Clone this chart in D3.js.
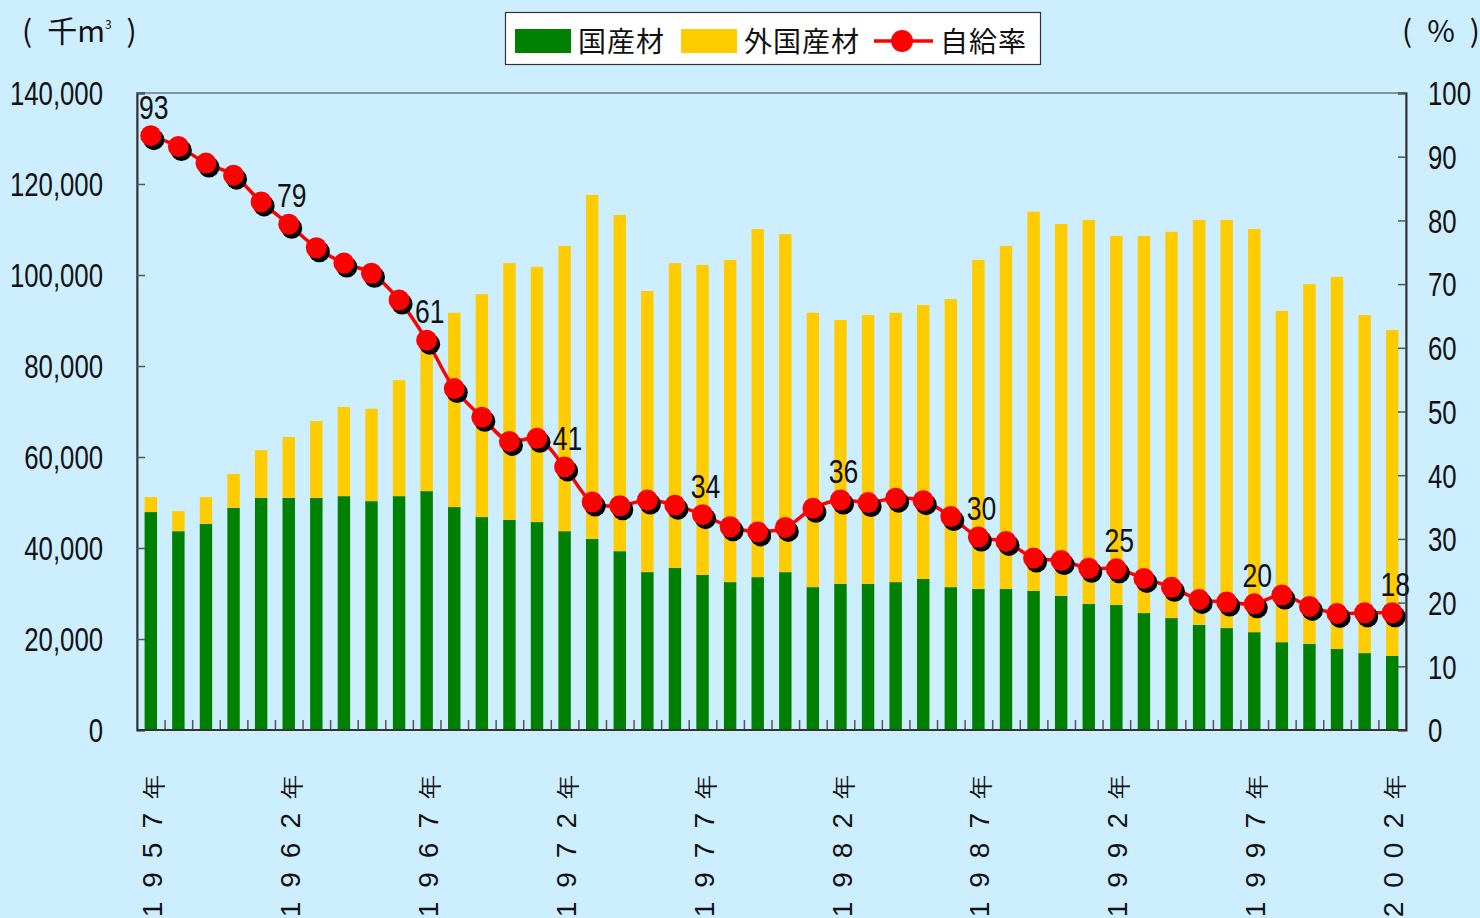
<!DOCTYPE html>
<html>
<head>
<meta charset="utf-8">
<script src="https://cdn.jsdelivr.net/npm/d3@7"></script>
<style>
  html, body { margin: 0; padding: 0; background: #cceeff; }
  svg { display: block; }
  .num { font-family: "Liberation Sans", Arial, sans-serif; }
  .jp { font-family: "Noto Sans CJK JP", sans-serif; }
</style>
</head>
<body>
<div id="chart"></div>
<script>
// years shown on the x axis, 1957 .. 2002
const years = [
  1957, 1958, 1959, 1960, 1961, 1962, 1963, 1964, 1965, 1966,
  1967, 1968, 1969, 1970, 1971, 1972, 1973, 1974, 1975, 1976,
  1977, 1978, 1979, 1980, 1981, 1982, 1983, 1984, 1985, 1986,
  1987, 1988, 1989, 1990, 1991, 1992, 1993, 1994, 1995, 1996,
  1997, 1998, 1999, 2000, 2001, 2002
];

// 国産材 (thousand m3)
const domestic = [
  47900, 43700, 45300, 48800, 51000, 51000, 51000, 51400, 50300, 51400,
  52500, 49000, 46800, 46200, 45700, 43700, 42000, 39300, 34700, 35600,
  34100, 32500, 33600, 34700, 31400, 32100, 32100, 32500, 33200, 31400,
  31000, 31000, 30600, 29500, 27700, 27500, 25700, 24600, 23100, 22400,
  21500, 19300, 18900, 17800, 16900, 16300
];

// 外国産材 (thousand m3)
const foreign = [
   3300,  4400,  5900,  7500, 10500, 13400, 16900, 19600, 20300, 25500,
  33500, 42700, 49000, 56400, 56100, 62700, 75600, 73900, 61800, 67000,
  68100, 70800, 76500, 74300, 60300, 58000, 59100, 59200, 60200, 63300,
  72300, 75400, 83300, 81700, 84400, 81100, 82900, 84900, 89000, 89700,
  88600, 72800, 79100, 81800, 74300, 71600
];

// 自給率 (%)
const rate = [
  93.3, 91.6, 89.0, 87.1, 82.9, 79.4, 75.7, 73.3, 71.7, 67.5,
  61.2, 53.6, 49.1, 45.3, 45.8, 41.3, 35.8, 35.2, 36.1, 35.3,
  33.8, 31.9, 31.1, 31.8, 34.8, 36.1, 35.7, 36.4, 36.0, 33.5,
  30.3, 29.6, 27.0, 26.6, 25.4, 25.3, 23.8, 22.4, 20.5, 20.1,
  19.8, 21.2, 19.4, 18.3, 18.4, 18.4
];

const leftTicks = [0, 20000, 40000, 60000, 80000, 100000, 120000, 140000];
const rightTicks = [0, 10, 20, 30, 40, 50, 60, 70, 80, 90, 100];
const labelledYears = [1957, 1962, 1967, 1972, 1977, 1982, 1987, 1992, 1997, 2002];

(function() {
  let width = 1480, height = 918;
  let plot = { left: 137, right: 1406, top: 93, bottom: 730 };

  // squeeze a text horizontally so the digits look tall and narrow
  function narrow(sel, k) {
    sel.each(function() {
      let len = this.getComputedTextLength();
      if (len > 0) {
        d3.select(this)
          .attr("textLength", len * k)
          .attr("lengthAdjust", "spacingAndGlyphs");
      }
    });
  }

  let svg = d3.select("#chart")
    .append("svg")
    .attr("width", width)
    .attr("height", height);

  svg.append("rect")
    .attr("width", width)
    .attr("height", height)
    .attr("fill", "#cceeff");

  let x = d3.scaleBand()
    .domain(years)
    .range([plot.left, plot.right])
    .paddingInner(0.55)
    .paddingOuter(0.275);

  let slot = d3.scaleLinear()
    .domain([0, years.length])
    .range([plot.left, plot.right]);

  let y = d3.scaleLinear()
    .domain([0, 140000])
    .range([plot.bottom, plot.top]);

  let y2 = d3.scaleLinear()
    .domain([0, 100])
    .range([plot.bottom, plot.top]);

  // plot frame
  svg.append("rect")
    .attr("x", plot.left)
    .attr("y", plot.top)
    .attr("width", plot.right - plot.left)
    .attr("height", plot.bottom - plot.top)
    .attr("fill", "none")
    .attr("stroke", "#6f7780")
    .attr("stroke-width", 1.5);

  // stacked bars
  let rows = years.map((yr, i) => ({ year: yr, domestic: domestic[i], foreign: foreign[i] }));
  let stack = d3.stack().keys(["domestic", "foreign"])(rows);
  let colors = { domestic: "#008000", foreign: "#ffcc00" };

  svg.append("g")
    .selectAll("g")
    .data(stack)
    .join("g")
    .attr("fill", d => colors[d.key])
    .selectAll("rect")
    .data(d => d)
    .join("rect")
    .attr("x", d => x(d.data.year))
    .attr("width", x.bandwidth())
    .attr("y", d => y(d[1]))
    .attr("height", d => y(d[0]) - y(d[1]));

  // axes
  let leftAxis = svg.append("g")
    .attr("transform", "translate(" + plot.left + ",0)")
    .call(d3.axisLeft(y)
      .tickValues(leftTicks)
      .tickSize(-8)
      .tickPadding(34)
      .tickFormat(d3.format(",")));

  let rightAxis = svg.append("g")
    .attr("transform", "translate(" + plot.right + ",0)")
    .call(d3.axisRight(y2)
      .tickValues(rightTicks)
      .tickSize(-8)
      .tickPadding(22));

  let bottomAxis = svg.append("g")
    .attr("transform", "translate(0," + plot.bottom + ")")
    .call(d3.axisTop(slot)
      .tickValues(d3.range(1, years.length))
      .tickSize(10)
      .tickFormat(""));

  [leftAxis, rightAxis, bottomAxis].forEach(function(g) {
    g.select(".domain").attr("stroke", "#333").attr("stroke-width", 2);
    g.selectAll(".tick line").attr("stroke", "#555").attr("stroke-width", 1.5);
    g.selectAll(".tick text")
      .attr("class", "num")
      .attr("fill", "#111")
      .style("font-size", "33px")
      .attr("dy", "0.36em")
      .call(narrow, 0.78);
  });
  bottomAxis.select(".domain").remove();
  svg.append("line")
    .attr("x1", plot.left).attr("x2", plot.right)
    .attr("y1", plot.bottom).attr("y2", plot.bottom)
    .attr("stroke", "#333").attr("stroke-width", 2);

  // year labels, rotated, read bottom to top
  let yearSpacing = 14;
  let yearText = svg.append("g")
    .selectAll("text")
    .data(labelledYears)
    .join("text")
    .attr("class", "num")
    .attr("transform", d => "translate(" + (x(d) + x.bandwidth() / 2 + 1) + ",775) rotate(-90)")
    .attr("text-anchor", "end")
    .attr("x", yearSpacing)
    .attr("dy", "0.36em")
    .style("font-size", "28px")
    .style("letter-spacing", yearSpacing + "px")
    .attr("fill", "#111");
  yearText.append("tspan").text(d => d);
  yearText.append("tspan").style("font-size", "24px").text("年");

  // 自給率 line
  let cx = (d, i) => x(years[i]) + x.bandwidth() / 2;

  let line = d3.line()
    .x(cx)
    .y(d => y2(d))
    .curve(d3.curveCatmullRom.alpha(0.5));

  svg.append("path")
    .datum(rate)
    .attr("fill", "none")
    .attr("stroke", "#ff0000")
    .attr("stroke-width", 3.5)
    .attr("d", line);

  let dots = svg.append("g");
  dots.selectAll("circle.shadow")
    .data(rate)
    .join("circle")
    .attr("class", "shadow")
    .attr("cx", (d, i) => cx(d, i) + 3)
    .attr("cy", d => y2(d) + 4)
    .attr("r", 10.5)
    .attr("fill", "#000");

  dots.selectAll("circle.dot")
    .data(rate)
    .join("circle")
    .attr("class", "dot")
    .attr("cx", cx)
    .attr("cy", d => y2(d))
    .attr("r", 10.5)
    .attr("fill", "#ff0000");

  // value labels every five years
  svg.append("g")
    .selectAll("text")
    .data(rate.map((r, i) => ({ r: r, i: i })).filter(d => labelledYears.includes(years[d.i])))
    .join("text")
    .attr("class", "num")
    .attr("x", d => cx(null, d.i) + 3)
    .attr("y", d => y2(d.r) - 17)
    .attr("text-anchor", "middle")
    .style("font-size", "34px")
    .attr("fill", "#111")
    .text(d => Math.round(d.r))
    .call(narrow, 0.78);

  // unit titles
  let unitL = svg.append("text")
    .attr("class", "jp")
    .attr("x", 22)
    .attr("y", 42)
    .style("font-size", "30px")
    .attr("fill", "#111");
  unitL.append("tspan").text("(\u2002千m");
  unitL.append("tspan").attr("dy", -13).style("font-size", "12px").text("3");
  unitL.append("tspan").attr("dy", 13).text("\u2002)");

  svg.append("text")
    .attr("class", "jp")
    .attr("x", 1402)
    .attr("y", 42)
    .style("font-size", "30px")
    .attr("fill", "#111")
    .text("(\u2002%\u2002)");

  // legend
  let legend = svg.append("g");
  legend.append("rect")
    .attr("x", 505.5).attr("y", 12.5)
    .attr("width", 535).attr("height", 52)
    .attr("fill", "#fff")
    .attr("stroke", "#333")
    .attr("stroke-width", 1.2);

  legend.append("rect")
    .attr("x", 515).attr("y", 29).attr("width", 56).attr("height", 24)
    .attr("fill", colors.domestic);
  legend.append("rect")
    .attr("x", 681).attr("y", 29).attr("width", 56).attr("height", 24)
    .attr("fill", colors.foreign);
  legend.append("line")
    .attr("x1", 874).attr("x2", 933).attr("y1", 41).attr("y2", 41)
    .attr("stroke", "#ff0000").attr("stroke-width", 3.5);
  legend.append("circle")
    .attr("cx", 902).attr("cy", 41).attr("r", 11)
    .attr("fill", "#ff0000");

  let legendText = [
    { x: 578, t: "国産材" },
    { x: 744, t: "外国産材" },
    { x: 940, t: "自給率" }
  ];
  legend.selectAll("text")
    .data(legendText)
    .join("text")
    .attr("class", "jp")
    .attr("x", d => d.x)
    .attr("y", 52)
    .style("font-size", "28px")
    .style("letter-spacing", "1px")
    .attr("fill", "#111")
    .text(d => d.t);
})();
</script>
</body>
</html>
